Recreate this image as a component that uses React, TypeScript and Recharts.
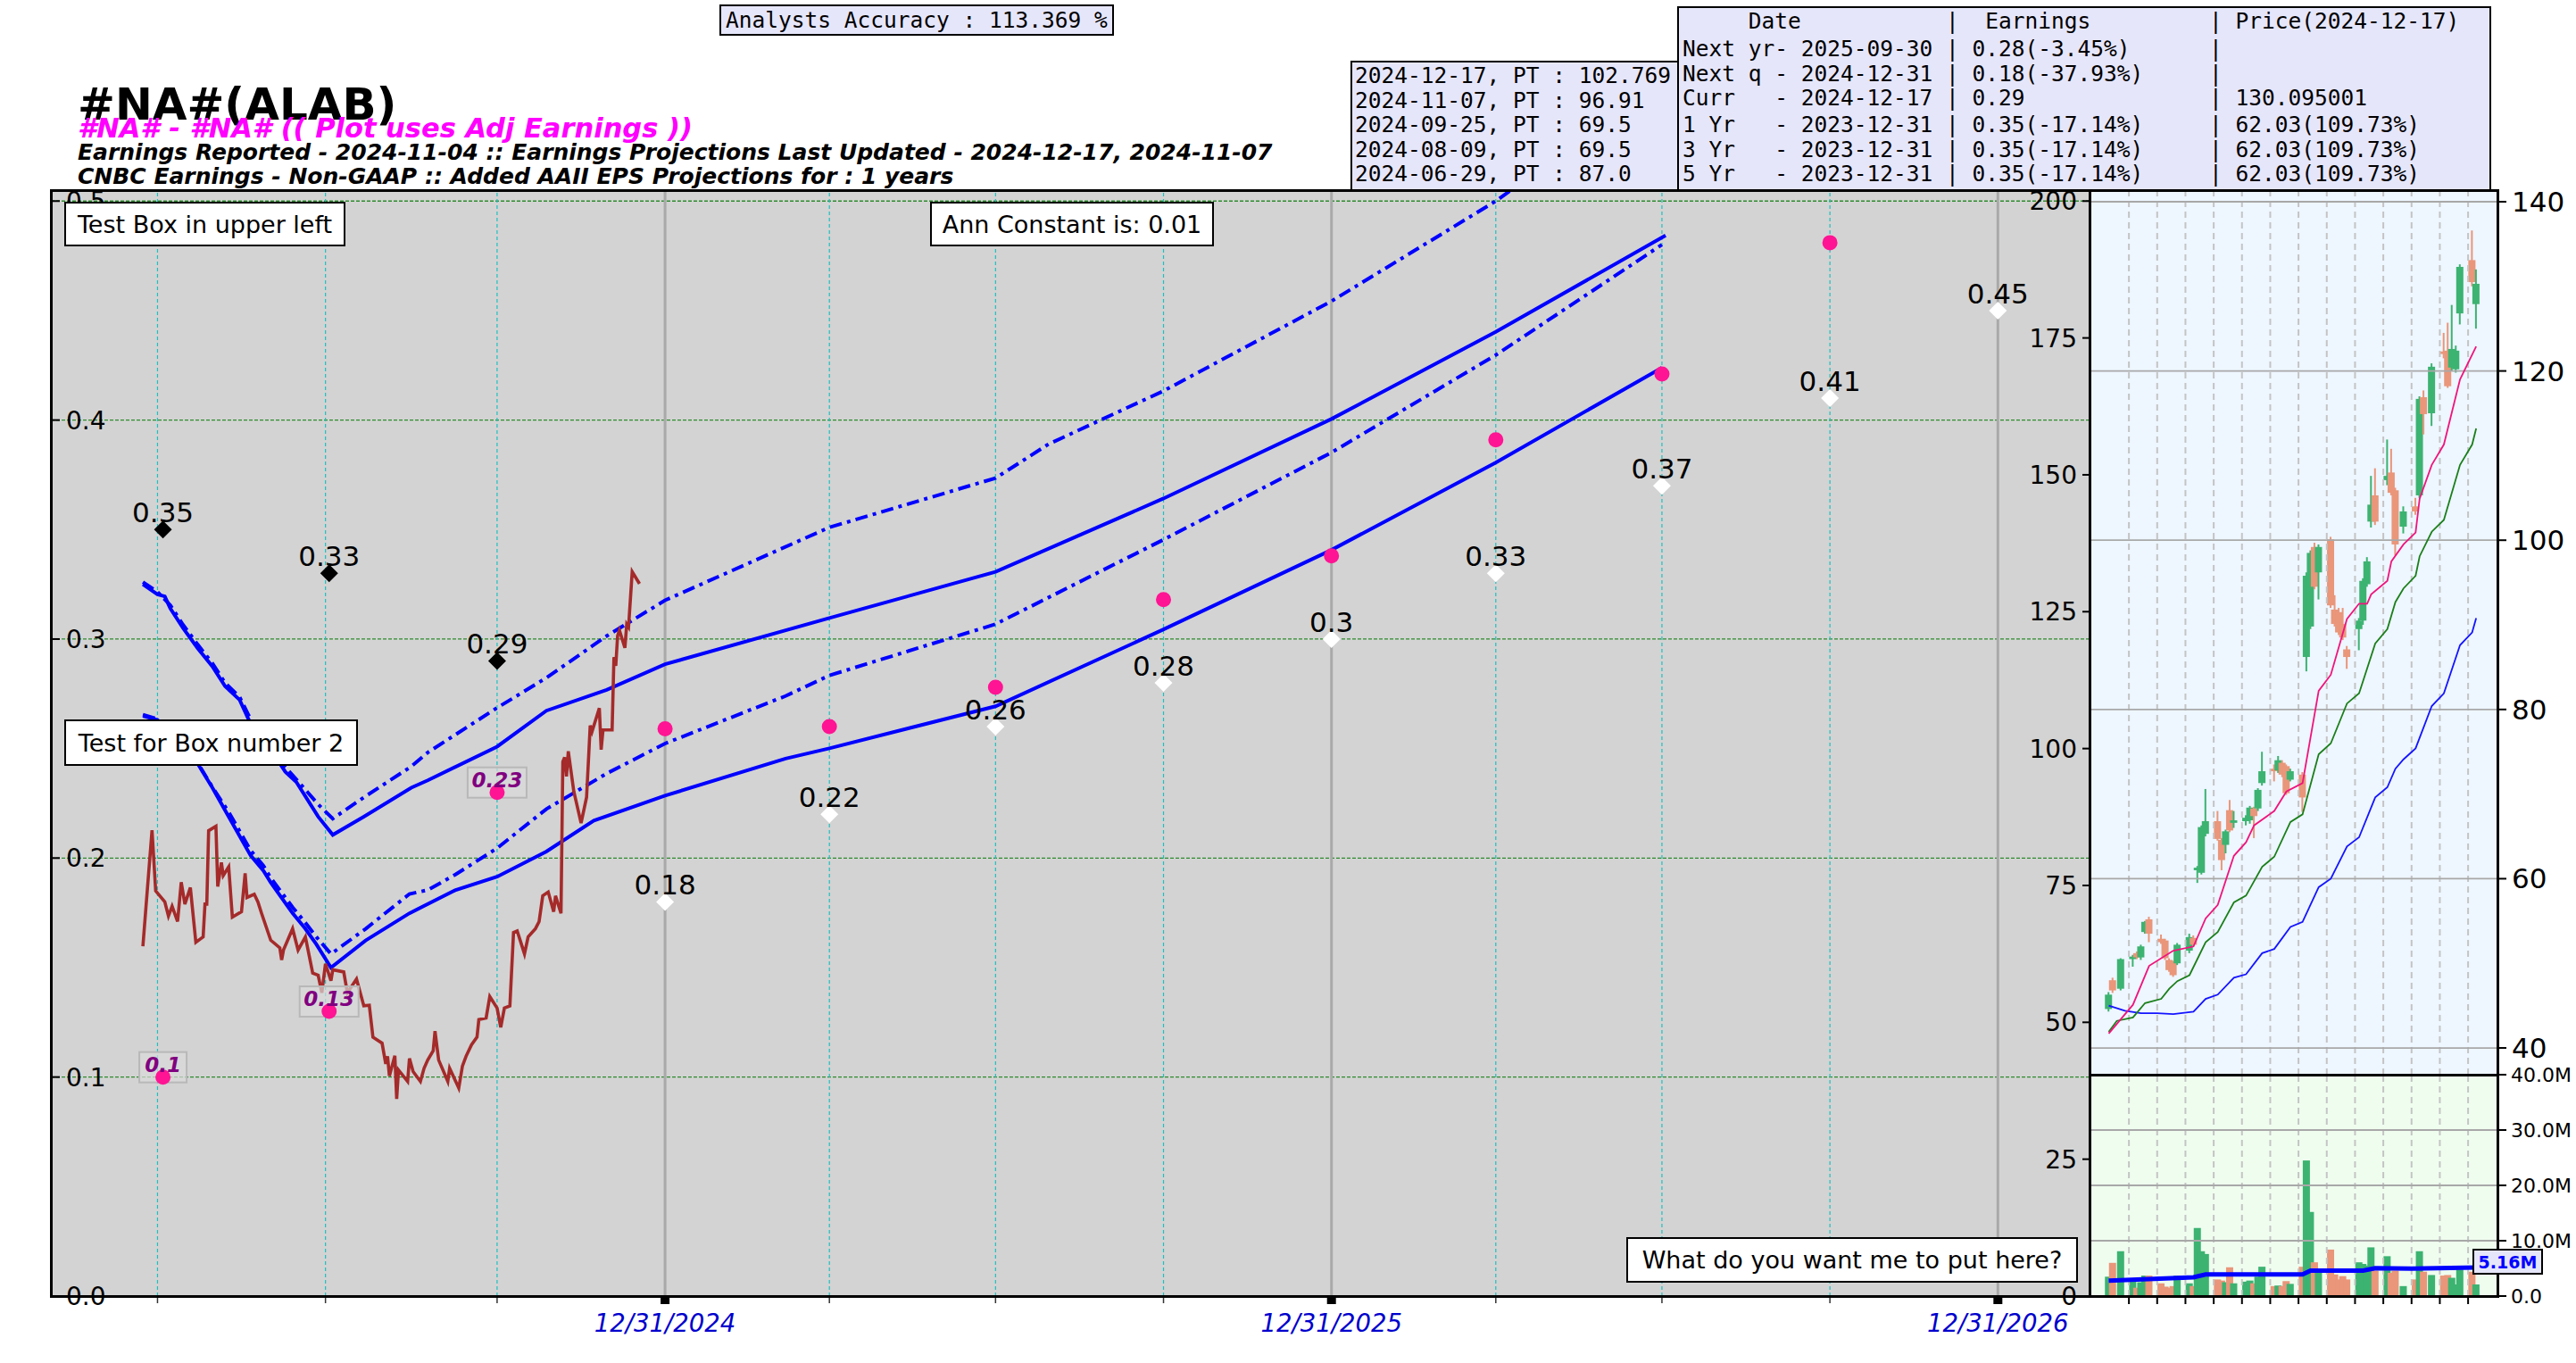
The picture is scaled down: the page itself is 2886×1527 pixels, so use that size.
import React from "react";
import {
  ComposedChart,
  Line,
  Scatter,
  Bar,
  XAxis,
  YAxis,
  CartesianGrid,
  ReferenceLine,
} from "recharts";

const DAY = 86400000;
const d = (s: string) => Date.parse(s + "T00:00:00Z");
const pts = (a: [string, number][]) => a.map(([s, v]) => ({ t: d(s), v }));

const FONT = "DejaVu Sans";
const MONO = "DejaVu Sans Mono";
const GREEN = "#3cb371";
const SALMON = "#e9967a";
const CANDLE_W = 8;

// ---------------- main EPS chart ----------------
const quarterLines = ["2024-03-28", "2024-06-28", "2024-09-30", "2025-03-31", "2025-06-30", "2025-09-30", "2026-03-31", "2026-06-30", "2026-09-30"];
const yearLines = ["2024-12-31", "2025-12-31", "2026-12-31"];
const epsTicks = [0, 0.1, 0.2, 0.3, 0.4, 0.5];
const priceTicks = [0, 25, 50, 75, 100, 125, 150, 175, 200];

const reportedDates = ["2024-03-31", "2024-06-30", "2024-09-30"];
const reportedEps = [0.35, 0.33, 0.29];

const quarterDates = ["2024-03-31", "2024-06-30", "2024-09-30", "2024-12-31", "2025-03-31", "2025-06-30", "2025-09-30", "2025-12-31", "2026-03-31", "2026-06-30", "2026-09-30"];
const quarterEps = [0.1, 0.13, 0.23, 0.259, 0.26, 0.278, 0.318, 0.338, 0.391, 0.421, 0.481];
const boxedCount = 3;

const projDates = ["2024-12-31", "2025-03-31", "2025-06-30", "2025-09-30", "2025-12-31", "2026-03-31", "2026-06-30", "2026-09-30", "2026-12-31"];
const projEps = [0.18, 0.22, 0.26, 0.28, 0.3, 0.33, 0.37, 0.41, 0.45];

// closing price (right axis)
const priceLine: [string, number][] = [
  ["2024-03-20", 63.9], ["2024-03-25", 85.1], ["2024-03-27", 74.0], ["2024-04-01", 72.0], ["2024-04-03", 69.4],
  ["2024-04-05", 71.2], ["2024-04-08", 68.4], ["2024-04-10", 75.6], ["2024-04-12", 71.6], ["2024-04-15", 74.6],
  ["2024-04-18", 64.6], ["2024-04-22", 65.6], ["2024-04-23", 71.6], ["2024-04-24", 71.6], ["2024-04-25", 85.0],
  ["2024-04-29", 85.8], ["2024-04-30", 74.8], ["2024-05-02", 79.2], ["2024-05-03", 76.8], ["2024-05-06", 78.4],
  ["2024-05-08", 69.2], ["2024-05-13", 70.2], ["2024-05-15", 77.2], ["2024-05-16", 72.8], ["2024-05-20", 73.4],
  ["2024-05-22", 72.0], ["2024-05-24", 69.9], ["2024-05-29", 65.0], ["2024-06-03", 63.6], ["2024-06-04", 61.4],
  ["2024-06-05", 63.2], ["2024-06-10", 67.1], ["2024-06-13", 63.2], ["2024-06-17", 65.6], ["2024-06-21", 59.0],
  ["2024-06-24", 58.6], ["2024-06-26", 55.4], ["2024-06-28", 60.7], ["2024-07-01", 57.6], ["2024-07-02", 59.6],
  ["2024-07-08", 59.2], ["2024-07-10", 55.4], ["2024-07-15", 57.9], ["2024-07-19", 53.0], ["2024-07-22", 53.1],
  ["2024-07-24", 47.3], ["2024-07-29", 46.2], ["2024-07-31", 42.4], ["2024-08-01", 43.8], ["2024-08-02", 40.2],
  ["2024-08-05", 43.9], ["2024-08-06", 36.0], ["2024-08-07", 41.3], ["2024-08-12", 39.2], ["2024-08-13", 43.4],
  ["2024-08-15", 41.0], ["2024-08-19", 39.2], ["2024-08-21", 41.6], ["2024-08-23", 43.1], ["2024-08-26", 44.8],
  ["2024-08-27", 48.4], ["2024-08-29", 43.1], ["2024-09-03", 39.2], ["2024-09-04", 41.6], ["2024-09-09", 38.0],
  ["2024-09-11", 42.0], ["2024-09-13", 43.8], ["2024-09-16", 45.9], ["2024-09-19", 47.3], ["2024-09-20", 50.5],
  ["2024-09-24", 50.8], ["2024-09-26", 54.7], ["2024-09-30", 52.6], ["2024-10-02", 49.1], ["2024-10-04", 52.6],
  ["2024-10-07", 53.0], ["2024-10-09", 66.4], ["2024-10-11", 66.7], ["2024-10-15", 62.5], ["2024-10-17", 65.6],
  ["2024-10-21", 67.1], ["2024-10-23", 68.4], ["2024-10-25", 73.1], ["2024-10-28", 73.8], ["2024-10-31", 70.2],
  ["2024-11-01", 73.1], ["2024-11-04", 69.9], ["2024-11-05", 97.6], ["2024-11-06", 98.4], ["2024-11-07", 94.9],
  ["2024-11-08", 99.5], ["2024-11-11", 92.2], ["2024-11-15", 86.4], ["2024-11-18", 91.1], ["2024-11-19", 97.6],
  ["2024-11-20", 104.2], ["2024-11-21", 103.1], ["2024-11-25", 107.4], ["2024-11-26", 99.8], ["2024-11-27", 103.4],
  ["2024-12-02", 103.4], ["2024-12-03", 116.7], ["2024-12-04", 115.1], ["2024-12-05", 120.6], ["2024-12-06", 121.6],
  ["2024-12-09", 118.4], ["2024-12-10", 122.7], ["2024-12-11", 122.2], ["2024-12-13", 132.3], ["2024-12-17", 130.1],
];

// blue bands (left axis)
const highSolid: [string, number][] = [
  ["2024-03-20", 0.325], ["2024-03-28", 0.3204], ["2024-04-01", 0.3195], ["2024-04-04", 0.314], ["2024-04-11", 0.305],
  ["2024-04-19", 0.2958], ["2024-04-27", 0.2876], ["2024-05-04", 0.2785], ["2024-05-12", 0.2722], ["2024-05-17", 0.2631],
  ["2024-05-27", 0.2522], ["2024-06-06", 0.2394], ["2024-06-12", 0.2348], ["2024-06-24", 0.2189], ["2024-07-02", 0.2106],
  ["2024-07-19", 0.2189], ["2024-08-14", 0.2321], ["2024-08-23", 0.2355], ["2024-09-30", 0.2509], ["2024-10-27", 0.2673],
  ["2024-11-29", 0.2768], ["2024-12-31", 0.2885], ["2025-03-31", 0.3096], ["2025-06-30", 0.3307], ["2025-09-30", 0.3642],
  ["2025-12-31", 0.4005], ["2026-03-31", 0.4403], ["2026-07-02", 0.4843],
];
const highDash: [string, number][] = [
  ["2024-03-20", 0.326], ["2024-03-28", 0.3215], ["2024-04-04", 0.3155], ["2024-04-11", 0.3065], ["2024-04-19", 0.2975],
  ["2024-04-27", 0.289], ["2024-05-04", 0.28], ["2024-05-12", 0.2735], ["2024-05-17", 0.265], ["2024-05-27", 0.2545],
  ["2024-06-06", 0.2415], ["2024-06-12", 0.236], ["2024-06-24", 0.2245], ["2024-07-02", 0.218], ["2024-07-19", 0.2277],
  ["2024-08-14", 0.2418], ["2024-08-23", 0.2482], ["2024-09-30", 0.2686], ["2024-10-27", 0.2823], ["2024-11-29", 0.3014],
  ["2024-12-31", 0.3177], ["2025-03-31", 0.351], ["2025-06-30", 0.3735], ["2025-07-29", 0.389], ["2025-09-30", 0.4133],
  ["2025-12-31", 0.4543], ["2026-03-31", 0.5], ["2026-04-20", 0.512],
];
const lowDash: [string, number][] = [
  ["2024-03-20", 0.2655], ["2024-03-28", 0.2635], ["2024-04-10", 0.2525], ["2024-04-19", 0.2435], ["2024-04-27", 0.2325],
  ["2024-05-06", 0.221], ["2024-05-18", 0.2035], ["2024-05-25", 0.1965], ["2024-05-29", 0.191], ["2024-06-10", 0.1775],
  ["2024-06-17", 0.1705], ["2024-06-23", 0.164], ["2024-07-01", 0.1562], ["2024-07-20", 0.1677], ["2024-08-13", 0.1836],
  ["2024-08-23", 0.1854], ["2024-09-07", 0.1924], ["2024-09-30", 0.2045], ["2024-10-27", 0.2224], ["2024-11-04", 0.2263],
  ["2024-11-29", 0.2386], ["2024-12-31", 0.2523], ["2025-03-07", 0.274], ["2025-03-31", 0.2834], ["2025-06-30", 0.3068],
  ["2025-09-30", 0.3454], ["2025-12-31", 0.3852], ["2026-03-31", 0.4297], ["2026-06-30", 0.4801],
];
const lowSolid: [string, number][] = [
  ["2024-03-20", 0.2649], ["2024-03-28", 0.2631], ["2024-04-10", 0.2522], ["2024-04-19", 0.2431], ["2024-04-27", 0.2322],
  ["2024-05-06", 0.2189], ["2024-05-18", 0.2012], ["2024-05-25", 0.1942], ["2024-05-29", 0.1889], ["2024-06-10", 0.1748],
  ["2024-06-17", 0.1677], ["2024-06-23", 0.1606], ["2024-07-01", 0.15], ["2024-07-20", 0.1624], ["2024-08-13", 0.1748],
  ["2024-09-07", 0.1853], ["2024-09-30", 0.1915], ["2024-10-27", 0.203], ["2024-11-22", 0.2171], ["2024-12-31", 0.2285],
  ["2025-03-07", 0.2454], ["2025-03-31", 0.2501], ["2025-06-30", 0.2693], ["2025-09-30", 0.3044], ["2025-12-31", 0.3407],
  ["2026-03-31", 0.3806], ["2026-06-30", 0.4239],
];

// ---------------- right panel: daily candles ----------------
// [date, open, high, low, close]
const candles: [string, number, number, number, number][] = [
  ["2024-09-17", 44.6, 46.6, 44.3, 46.3], ["2024-09-18", 48.0, 48.3, 46.5, 46.8], ["2024-09-20", 47.0, 50.6, 46.8, 50.5],
  ["2024-09-23", 50.5, 51.0, 49.6, 50.8], ["2024-09-24", 51.2, 51.4, 50.5, 50.7], ["2024-09-25", 50.7, 52.2, 50.4, 52.0],
  ["2024-09-26", 53.7, 55.0, 53.5, 54.9], ["2024-09-27", 55.2, 55.5, 52.5, 53.5],
  ["2024-09-30", 52.9, 53.4, 52.3, 52.5], ["2024-10-01", 52.7, 52.9, 50.4, 50.6], ["2024-10-02", 50.4, 50.6, 49.0, 49.2],
  ["2024-10-03", 50.1, 50.3, 48.4, 48.6], ["2024-10-04", 50.0, 52.4, 49.8, 52.2],
  ["2024-10-07", 51.5, 53.5, 51.2, 53.1], ["2024-10-08", 53.0, 53.3, 52.0, 52.2], ["2024-10-09", 61.0, 61.5, 59.5, 61.3],
  ["2024-10-10", 60.7, 66.3, 60.5, 66.1], ["2024-10-11", 65.3, 70.6, 65.0, 66.8],
  ["2024-10-14", 66.8, 68.0, 64.5, 64.7], ["2024-10-15", 64.6, 64.8, 61.0, 62.2], ["2024-10-16", 64.0, 65.8, 63.0, 65.6],
  ["2024-10-17", 68.1, 69.3, 65.5, 65.7], ["2024-10-18", 66.6, 68.0, 66.0, 66.9],
  ["2024-10-21", 66.8, 67.5, 66.3, 67.2], ["2024-10-22", 66.9, 68.6, 66.5, 68.4], ["2024-10-23", 68.3, 68.5, 64.8, 67.4],
  ["2024-10-24", 68.3, 70.7, 68.0, 70.5], ["2024-10-25", 71.3, 75.0, 71.0, 72.7],
  ["2024-10-28", 73.0, 73.5, 71.5, 72.7], ["2024-10-29", 72.8, 74.5, 72.5, 74.0], ["2024-10-30", 73.7, 74.0, 72.0, 72.3],
  ["2024-10-31", 73.3, 73.5, 69.9, 70.1], ["2024-11-01", 71.7, 73.0, 71.5, 72.7],
  ["2024-11-04", 72.3, 72.6, 67.9, 69.6], ["2024-11-05", 86.2, 96.2, 84.5, 95.8], ["2024-11-06", 89.8, 98.8, 89.5, 98.5],
  ["2024-11-07", 99.2, 99.7, 94.2, 94.5], ["2024-11-08", 96.2, 99.5, 93.0, 99.2],
  ["2024-11-11", 100.1, 100.4, 92.0, 92.3], ["2024-11-12", 91.8, 93.5, 89.8, 90.1], ["2024-11-13", 91.5, 92.0, 88.8, 89.1],
  ["2024-11-14", 90.1, 92.0, 88.2, 88.5], ["2024-11-15", 87.1, 87.5, 84.8, 86.2],
  ["2024-11-18", 89.5, 90.8, 87.0, 90.5], ["2024-11-19", 90.5, 95.5, 90.0, 95.2], ["2024-11-20", 94.8, 98.0, 94.5, 97.5],
  ["2024-11-21", 102.2, 107.6, 101.5, 104.2], ["2024-11-22", 105.3, 108.5, 101.8, 102.2],
  ["2024-11-25", 107.1, 111.9, 106.5, 107.6], ["2024-11-26", 108.0, 110.8, 105.3, 105.6], ["2024-11-27", 105.9, 106.2, 98.2, 99.5],
  ["2024-11-29", 101.6, 104.0, 100.8, 103.4],
  ["2024-12-02", 104.0, 105.0, 103.0, 103.4], ["2024-12-03", 105.3, 117.0, 105.0, 116.7], ["2024-12-04", 116.9, 117.7, 112.5, 114.9],
  ["2024-12-06", 115.0, 120.9, 113.5, 120.5],
  ["2024-12-09", 122.3, 124.5, 121.5, 122.0], ["2024-12-10", 122.4, 125.7, 118.0, 118.2], ["2024-12-11", 120.4, 127.8, 120.0, 122.6],
  ["2024-12-12", 120.2, 123.0, 119.8, 122.4], ["2024-12-13", 126.8, 132.6, 125.5, 132.3],
  ["2024-12-16", 133.1, 136.6, 130.0, 130.5], ["2024-12-17", 127.9, 132.0, 125.0, 130.3],
];
// volume in millions, same order as candles
const volumes = [
  3.5, 6.0, 8.1,
  2.6, 1.5, 2.5, 3.7, 3.7,
  2.3, 1.7, 1.5, 1.8, 3.7,
  2.3, 1.8, 12.3, 8.1, 7.6,
  3.0, 2.8, 2.5, 5.2, 2.3,
  2.6, 2.8, 2.3, 3.5, 5.3,
  1.8, 1.9, 1.8, 2.7, 2.2,
  5.3, 24.5, 15.2, 6.1, 4.5,
  8.4, 3.9, 3.0, 3.6, 3.0,
  6.1, 5.8, 5.5, 8.8, 4.6,
  7.2, 4.2, 4.6, 1.8,
  3.0, 8.1, 4.4, 3.8,
  3.7, 3.8, 3.3, 2.1, 4.8,
  4.4, 2.1,
];

const maFast: [string, number][] = [
  ["2024-09-17", 41.7], ["2024-09-23", 45.1], ["2024-09-27", 49.7], ["2024-10-03", 51.5], ["2024-10-08", 52.0],
  ["2024-10-11", 55.3], ["2024-10-14", 56.9], ["2024-10-18", 62.7], ["2024-10-21", 64.3], ["2024-10-23", 66.3],
  ["2024-10-28", 68.0], ["2024-10-31", 70.3], ["2024-11-04", 71.3], ["2024-11-08", 82.2], ["2024-11-11", 84.1],
  ["2024-11-15", 90.7], ["2024-11-18", 92.5], ["2024-11-20", 92.5], ["2024-11-21", 93.6], ["2024-11-25", 95.2],
  ["2024-11-26", 97.5], ["2024-11-29", 99.5], ["2024-12-02", 100.9], ["2024-12-03", 104.9], ["2024-12-06", 108.9],
  ["2024-12-09", 111.3], ["2024-12-13", 119.0], ["2024-12-17", 122.9],
];
const maMid: [string, number][] = [
  ["2024-09-17", 41.9], ["2024-09-19", 43.2], ["2024-09-23", 43.6], ["2024-09-26", 45.3], ["2024-09-30", 45.8],
  ["2024-10-02", 47.0], ["2024-10-04", 47.9], ["2024-10-07", 48.6], ["2024-10-11", 52.5], ["2024-10-14", 53.7],
  ["2024-10-18", 57.2], ["2024-10-21", 58.0], ["2024-10-25", 61.4], ["2024-10-28", 62.6], ["2024-11-01", 66.7],
  ["2024-11-04", 67.6], ["2024-11-08", 74.7], ["2024-11-11", 76.0], ["2024-11-15", 80.7], ["2024-11-18", 81.9],
  ["2024-11-22", 87.8], ["2024-11-25", 89.5], ["2024-11-27", 92.7], ["2024-11-29", 94.3], ["2024-12-02", 95.8],
  ["2024-12-03", 98.1], ["2024-12-06", 101.0], ["2024-12-09", 102.4], ["2024-12-13", 108.9], ["2024-12-16", 111.3],
  ["2024-12-17", 113.2],
];
const maSlow: [string, number][] = [
  ["2024-09-17", 45.0], ["2024-09-21", 44.4], ["2024-09-25", 44.1], ["2024-09-29", 44.1], ["2024-10-03", 44.0],
  ["2024-10-08", 44.3], ["2024-10-11", 45.8], ["2024-10-14", 46.3], ["2024-10-18", 48.3], ["2024-10-21", 48.7],
  ["2024-10-25", 51.2], ["2024-10-28", 51.7], ["2024-11-01", 54.3], ["2024-11-04", 54.9], ["2024-11-08", 59.0],
  ["2024-11-11", 60.0], ["2024-11-15", 63.8], ["2024-11-18", 64.9], ["2024-11-22", 69.6], ["2024-11-25", 70.8],
  ["2024-11-27", 73.0], ["2024-11-29", 74.1], ["2024-12-02", 75.4], ["2024-12-06", 80.4], ["2024-12-09", 81.9],
  ["2024-12-13", 87.6], ["2024-12-16", 89.1], ["2024-12-17", 90.8],
];
const volAvg: [string, number][] = [
  ["2024-09-17", 2.8], ["2024-10-08", 3.4], ["2024-10-11", 3.9], ["2024-11-04", 3.9], ["2024-11-06", 4.6],
  ["2024-11-19", 4.6], ["2024-11-22", 5.05], ["2024-12-01", 4.95], ["2024-12-17", 5.16],
];
const weekLines = ["2024-09-22", "2024-09-29", "2024-10-06", "2024-10-13", "2024-10-20", "2024-10-27", "2024-11-03", "2024-11-10", "2024-11-17", "2024-11-24", "2024-12-01", "2024-12-08", "2024-12-15"];
const panelPriceTicks = [40, 60, 80, 100, 120, 140];
const volTicks = [0, 10, 20, 30, 40];

// ---------------- text ----------------
const tableRows = [
  ["     Date", "  Earnings", " Price(2024-12-17)"],
  ["Next yr- 2025-09-30", " 0.28(-3.45%)", ""],
  ["Next q - 2024-12-31", " 0.18(-37.93%)", ""],
  ["Curr   - 2024-12-17", " 0.29", " 130.095001"],
  ["1 Yr   - 2023-12-31", " 0.35(-17.14%)", " 62.03(109.73%)"],
  ["3 Yr   - 2023-12-31", " 0.35(-17.14%)", " 62.03(109.73%)"],
  ["5 Yr   - 2023-12-31", " 0.35(-17.14%)", " 62.03(109.73%)"],
];
const tableRowY = [24, 55, 83, 110, 140, 167.5, 195];
const ptRows = ["2024-12-17, PT : 102.769", "2024-11-07, PT : 96.91", "2024-09-25, PT : 69.5", "2024-08-09, PT : 69.5", "2024-06-29, PT : 87.0"];
const ptRowY = [85, 112.5, 140, 167.5, 195];

// ---------------- geometry ----------------
const MAIN_LEFT = 57, MAIN_TOP = 213, MAIN_W = 2284, MAIN_H = 1239, AXIS_H = 62;
const X0 = d("2024-01-29") + 0.6 * DAY, X1 = d("2027-02-19") + 0.2 * DAY;
const PANEL_LEFT = 2341, PANEL_W = 457, PRICE_TOP = 213, PRICE_H = 991, VOL_TOP = 1204, VOL_H = 248, RAXIS_W = 90;
const RX0 = d("2024-09-12") + 0.25 * DAY, RX1 = d("2024-12-22") + 0.27 * DAY;

const yearSet = new Set(yearLines.map(d));
const mainTicks = [...quarterLines, ...yearLines].map(d).sort((a, b) => a - b);

function MainTick(props: any) {
  const { x, y, payload } = props;
  if (yearSet.has(payload.value)) {
    const dt = new Date(payload.value);
    const lab = `${dt.getUTCMonth() + 1}/${dt.getUTCDate()}/${dt.getUTCFullYear()}`;
    return (
      <g>
        <rect x={x - 5} y={y} width={10} height={9} fill="#000" />
        <text x={x} y={y + 40} textAnchor="middle" fill="#0000cd" fontStyle="italic" fontSize={27.5} fontFamily={FONT}>{lab}</text>
      </g>
    );
  }
  return <line x1={x} x2={x} y1={y} y2={y + 8} stroke="#333" strokeWidth={1.5} />;
}

function Diamond(props: any) {
  const { cx, cy, payload, color } = props;
  const r = 10;
  return (
    <g>
      <polygon points={`${cx},${cy - r} ${cx + r},${cy} ${cx},${cy + r} ${cx - r},${cy}`} fill={color} />
      <text x={cx} y={cy - 8} textAnchor="middle" fontSize={31} fontFamily={FONT} fill="#000">{String(payload.v)}</text>
    </g>
  );
}

function PinkDot(props: any) {
  const { cx, cy, payload } = props;
  const lab = String(payload.v);
  const w = lab.length * 13 + 14;
  return (
    <g>
      {payload.boxed && <rect x={cx - w / 2} y={cy - 28} width={w} height={34} fill="#dadada" fillOpacity={0.7} stroke="#b8b8b8" strokeWidth={2} />}
      <circle cx={cx} cy={cy} r={8.5} fill="#ff1493" />
      {payload.boxed && (
        <text x={cx} y={cy - 6} textAnchor="middle" fontSize={23} fontWeight="bold" fontStyle="italic" fill="#800080" fontFamily={FONT}>{lab}</text>
      )}
    </g>
  );
}

function MainChart() {
  const reported = reportedDates.map((s, i) => ({ t: d(s), v: reportedEps[i] }));
  const quarters = quarterDates.map((s, i) => ({ t: d(s), v: quarterEps[i], boxed: i < boxedCount }));
  const proj = projDates.map((s, i) => ({ t: d(s), v: projEps[i] }));
  return (
    <ComposedChart width={MAIN_W} height={MAIN_H + AXIS_H} margin={{ top: 0, right: 0, bottom: 0, left: 0 }}>
      <CartesianGrid vertical={false} fill="#d3d3d3" fillOpacity={1} stroke="#2e8b2e" strokeDasharray="4 2" strokeWidth={1.3} />
      <XAxis dataKey="t" type="number" domain={[X0, X1]} allowDataOverflow ticks={mainTicks} interval={0} height={AXIS_H}
        axisLine={false} tickLine={false} tickSize={0} tickMargin={0} tick={(p: any) => <MainTick {...p} />} />
      <YAxis type="number" domain={[0, 0.505]} allowDataOverflow ticks={epsTicks} interval={0} mirror width={60}
        axisLine={false} tickLine={{ stroke: "#000", strokeWidth: 2 }} tickSize={10} tickMargin={7}
        tickFormatter={(v: number) => v.toFixed(1)} tick={{ fill: "#000", fontSize: 28, fontFamily: FONT }} />
      <YAxis yAxisId="px" orientation="right" type="number" domain={[0, 202]} allowDataOverflow ticks={priceTicks} interval={0} mirror width={60}
        axisLine={false} tickLine={{ stroke: "#000", strokeWidth: 2 }} tickSize={8} tickMargin={6}
        tick={{ fill: "#000", fontSize: 28, fontFamily: FONT }} />
      {quarterLines.map((s) => (
        <ReferenceLine key={s} x={d(s)} stroke="#1fbfbf" strokeDasharray="4 3" strokeWidth={1.2} />
      ))}
      {yearLines.map((s) => (
        <ReferenceLine key={s} x={d(s)} stroke="#a9a9a9" strokeWidth={3} />
      ))}
      <Line data={pts(highDash)} dataKey="v" stroke="#0000ff" strokeWidth={4} strokeDasharray="14 6 4 6" dot={false} isAnimationActive={false} />
      <Line data={pts(highSolid)} dataKey="v" stroke="#0000ff" strokeWidth={4} dot={false} isAnimationActive={false} />
      <Line data={pts(lowDash)} dataKey="v" stroke="#0000ff" strokeWidth={4} strokeDasharray="14 6 4 6" dot={false} isAnimationActive={false} />
      <Line data={pts(lowSolid)} dataKey="v" stroke="#0000ff" strokeWidth={4} dot={false} isAnimationActive={false} />
      <Line yAxisId="px" data={pts(priceLine)} dataKey="v" stroke="#a52a2a" strokeWidth={3.6} dot={false} isAnimationActive={false} />
      <Scatter data={reported} dataKey="v" isAnimationActive={false} shape={(p: any) => <Diamond {...p} color="#000" />} />
      <Scatter data={proj} dataKey="v" isAnimationActive={false} shape={(p: any) => <Diamond {...p} color="#fff" />} />
      <Scatter data={quarters} dataKey="v" isAnimationActive={false} shape={(p: any) => <PinkDot {...p} />} />
    </ComposedChart>
  );
}

// candle drawn around the centre of the band the library gives the bar
function Candle(props: any) {
  const { x, y, width, height, payload } = props;
  const { o, h, l, c } = payload;
  const color = c >= o ? GREEN : SALMON;
  const top = Math.min(y, y + height);
  const hh = Math.abs(height);
  const k = h > l ? hh / (h - l) : 0;
  const bodyTop = top + (h - Math.max(o, c)) * k;
  const bodyH = Math.max(2, Math.abs(o - c) * k);
  const cx = x + width / 2;
  return (
    <g>
      <line x1={cx} x2={cx} y1={top} y2={top + hh} stroke={color} strokeWidth={2} />
      <rect x={cx - CANDLE_W / 2} y={bodyTop} width={CANDLE_W} height={bodyH} fill={color} />
    </g>
  );
}

function VolBar(props: any) {
  const { x, y, width, height, payload } = props;
  const cx = x + width / 2;
  return <rect x={cx - CANDLE_W / 2} y={Math.min(y, y + height)} width={CANDLE_W} height={Math.abs(height)} fill={payload.up ? GREEN : SALMON} />;
}

function PriceChart() {
  const rows = candles.map(([s, o, h, l, c]) => ({ t: d(s), o, h, l, c }));
  return (
    <ComposedChart width={PANEL_W + RAXIS_W} height={PRICE_H} data={rows} margin={{ top: 0, right: 0, bottom: 0, left: 0 }}>
      <XAxis dataKey="t" type="number" domain={[RX0, RX1]} allowDataOverflow hide />
      <YAxis orientation="right" type="number" domain={[36.84, 141.37]} allowDataOverflow ticks={panelPriceTicks} interval={0} width={RAXIS_W}
        axisLine={false} tickLine={{ stroke: "#000", strokeWidth: 2 }} tickSize={10} tickMargin={6}
        tick={{ fill: "#000", fontSize: 31, fontFamily: FONT }} />
      {weekLines.map((s) => (
        <ReferenceLine key={s} x={d(s)} stroke="#c4c4c4" strokeDasharray="7 5" strokeWidth={2} />
      ))}
      {panelPriceTicks.map((v) => (
        <ReferenceLine key={v} y={v} stroke="#a8a8a8" strokeWidth={1.8} />
      ))}
      <Bar dataKey={(r: any) => [r.l, r.h]} barSize={4} isAnimationActive={false} shape={(p: any) => <Candle {...p} />} />
      <Line data={pts(maSlow)} dataKey="v" stroke="#1414ff" strokeWidth={1.8} dot={false} isAnimationActive={false} />
      <Line data={pts(maMid)} dataKey="v" stroke="#1a7f1a" strokeWidth={1.8} dot={false} isAnimationActive={false} />
      <Line data={pts(maFast)} dataKey="v" stroke="#f0147c" strokeWidth={1.8} dot={false} isAnimationActive={false} />
    </ComposedChart>
  );
}

function VolTick(props: any) {
  const { x, y } = props;
  return <line x1={x} x2={x} y1={y} y2={y + 9} stroke="#000" strokeWidth={2} />;
}

function VolumeChart() {
  const rows = candles.map(([s, o, , , c], i) => ({ t: d(s), v: volumes[i], up: c >= o }));
  return (
    <ComposedChart width={PANEL_W + RAXIS_W} height={VOL_H + 30} data={rows} margin={{ top: 14, right: 0, bottom: 0, left: 0 }}>
      <XAxis dataKey="t" type="number" domain={[RX0, RX1]} allowDataOverflow ticks={weekLines.map(d)} interval={0} height={16}
        axisLine={false} tickLine={false} tickSize={0} tickMargin={0} tick={(p: any) => <VolTick {...p} />} />
      <YAxis orientation="right" type="number" domain={[0, 40]} allowDataOverflow ticks={volTicks} interval={0} width={RAXIS_W}
        axisLine={false} tickLine={{ stroke: "#000", strokeWidth: 2 }} tickSize={10} tickMargin={5}
        tickFormatter={(v: number) => (v === 0 ? "0.0" : v.toFixed(1) + "M")}
        tick={{ fill: "#000", fontSize: 22, fontFamily: FONT }} />
      {weekLines.map((s) => (
        <ReferenceLine key={s} x={d(s)} stroke="#c4c4c4" strokeDasharray="7 5" strokeWidth={2} />
      ))}
      {[10, 20, 30].map((v) => (
        <ReferenceLine key={v} y={v} stroke="#a8a8a8" strokeWidth={1.8} />
      ))}
      <Bar dataKey="v" barSize={4} isAnimationActive={false} shape={(p: any) => <VolBar {...p} />} />
      <Line data={pts(volAvg)} dataKey="v" stroke="#0000ff" strokeWidth={5} dot={false} isAnimationActive={false} />
    </ComposedChart>
  );
}

const abs = (l: number, t: number, w?: number, h?: number): React.CSSProperties => ({
  position: "absolute", left: l, top: t, width: w, height: h, boxSizing: "border-box",
});

function NoteBox({ l, t, w, h, text }: { l: number; t: number; w: number; h: number; text: string }) {
  return (
    <div style={{ ...abs(l, t, w, h), border: "2.5px solid #000", background: "#fff", display: "flex", alignItems: "center",
      justifyContent: "center", fontFamily: FONT, fontSize: 27, color: "#000", whiteSpace: "nowrap" }}>
      {text}
    </div>
  );
}

export default function App() {
  return (
    <div style={{ position: "absolute", left: 0, top: 0, width: 2886, height: 1527, background: "#fff", overflow: "hidden" }}>
      <svg style={{ position: "absolute", left: 0, top: 0 }} width={1500} height={212}>
        <text x={87} y={134} fontFamily={FONT} fontWeight="bold" fontSize={50} fill="#000">#NA#(ALAB)</text>
        <text x={87} y={154} fontFamily={FONT} fontWeight="bold" fontStyle="italic" fontSize={30.5} fill="#ff00ff">#NA# - #NA# (( Plot uses Adj Earnings ))</text>
        <text x={87} y={179} fontFamily={FONT} fontWeight="bold" fontStyle="italic" fontSize={25} fill="#000">Earnings Reported - 2024-11-04 :: Earnings Projections Last Updated - 2024-12-17, 2024-11-07</text>
        <text x={87} y={206} fontFamily={FONT} fontWeight="bold" fontStyle="italic" fontSize={25} fill="#000">CNBC Earnings - Non-GAAP :: Added AAII EPS Projections for : 1 years</text>
      </svg>

      <div style={abs(MAIN_LEFT, MAIN_TOP)}>
        <MainChart />
      </div>

      <div style={{ ...abs(PANEL_LEFT, PRICE_TOP, PANEL_W, PRICE_H), background: "#eef6ff" }} />
      <div style={{ ...abs(PANEL_LEFT, VOL_TOP, PANEL_W, VOL_H), background: "#effdef" }} />
      <div style={abs(PANEL_LEFT, PRICE_TOP)}>
        <PriceChart />
      </div>
      <div style={abs(PANEL_LEFT, VOL_TOP - 14)}>
        <VolumeChart />
      </div>

      <div style={{ ...abs(MAIN_LEFT - 1.5, MAIN_TOP - 1.5, MAIN_W + 3, MAIN_H + 3), border: "3px solid #000" }} />
      <div style={{ ...abs(PANEL_LEFT - 1.5, PRICE_TOP - 1.5, PANEL_W + 3, PRICE_H + 3), border: "3px solid #000" }} />
      <div style={{ ...abs(PANEL_LEFT - 1.5, VOL_TOP - 1.5, PANEL_W + 3, VOL_H + 3), border: "3px solid #000" }} />

      <NoteBox l={72} t={226} w={315} h={50} text="Test Box in upper left" />
      <NoteBox l={1042} t={226} w={318} h={50} text="Ann Constant is: 0.01" />
      <NoteBox l={72} t={806} w={329} h={52} text="Test for Box number 2" />
      <NoteBox l={1822} t={1386} w={506} h={51} text="What do you want me to put here?" />

      <div style={{ ...abs(2770, 1399, 79, 29), border: "2.5px solid #000", background: "#e6e6fa", color: "#0000ff",
        fontFamily: FONT, fontWeight: "bold", fontSize: 19, display: "flex", alignItems: "center", justifyContent: "center" }}>
        5.16M
      </div>

      <div style={{ ...abs(806, 5, 442, 35), border: "2.5px solid #000", background: "#e6e6fa", fontFamily: MONO, fontSize: 24.5,
        display: "flex", alignItems: "center", justifyContent: "center", whiteSpace: "pre" }}>
        Analysts Accuracy : 113.369 %
      </div>

      <div style={{ ...abs(1513, 68, 368, 146), border: "2.5px solid #000", background: "#e6e6fa" }} />
      {ptRows.map((r, i) => (
        <div key={i} style={{ ...abs(1518, ptRowY[i] - 14), height: 28, lineHeight: "28px", fontFamily: MONO, fontSize: 24.5, whiteSpace: "pre", color: "#000" }}>
          {r}
        </div>
      ))}
      <div style={{ ...abs(1879, 7, 912, 207), border: "2.5px solid #000", background: "#e6e6fa" }} />
      {tableRows.map((r, i) => (
        <div key={i} style={{ ...abs(1885, tableRowY[i] - 14), height: 28, lineHeight: "28px", fontFamily: MONO, fontSize: 24.5, whiteSpace: "pre", color: "#000" }}>
          {r[0].padEnd(20) + "|" + r[1].padEnd(19) + "|" + r[2]}
        </div>
      ))}
    </div>
  );
}
